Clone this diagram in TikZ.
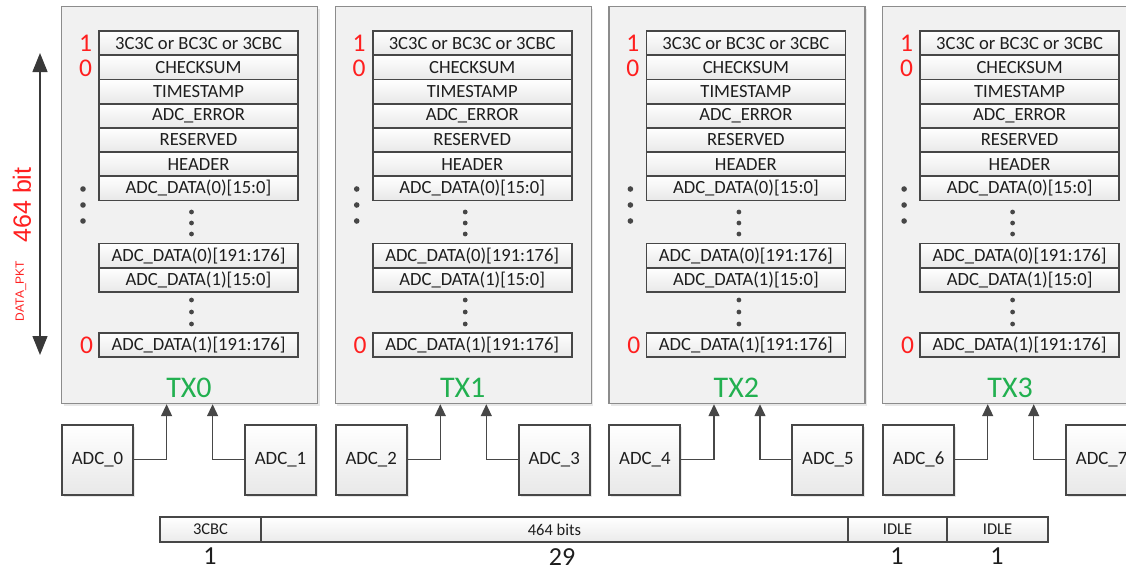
\documentclass[tikz,border=0pt]{standalone}
\usepackage{fontspec}
\setmainfont{Carlito}
\newfontfamily\arialfont{Liberation Sans}
\usetikzlibrary{arrows.meta, positioning, calc, shadows}
\definecolor{pnlfill}{HTML}{F1F1F1}
\definecolor{pnlline}{HTML}{8C8C8C}
\definecolor{boxline}{HTML}{474747}
\definecolor{txtdark}{HTML}{1E1E1E}
\definecolor{bitred}{HTML}{FF1F1F}
\definecolor{txgreen}{HTML}{22B050}

\tikzset{
  panel/.style={draw=pnlline, line width=1.2pt, fill=pnlfill, inner sep=0pt,
    minimum width=256pt, minimum height=397pt,
    drop shadow={opacity=0.18, shadow xshift=2pt, shadow yshift=-2pt}},
  field/.style={draw=boxline, line width=1.8pt, top color=white, bottom color=black!9,
    minimum width=199pt, minimum height=24.2pt, inner sep=0pt,
    font=\fontsize{18.6}{18.6}\selectfont, text=txtdark},
  adcbox/.style={draw=boxline, line width=2pt, top color=white, bottom color=black!9,
    minimum width=71pt, minimum height=70pt, inner sep=0pt,
    font=\fontsize{18.8}{18.8}\selectfont, text=txtdark,
    drop shadow={opacity=0.18, shadow xshift=2pt, shadow yshift=-2pt}},
  barcell/.style={draw=boxline, line width=1.8pt, top color=white, bottom color=black!8,
    minimum height=25pt, inner sep=0pt, font=\fontsize{16.5}{16.5}\selectfont, text=txtdark},
  bitnum/.style={text=bitred, font=\fontsize{25.5}{25.5}\selectfont, inner sep=0pt},
  cntnum/.style={text=txtdark, font=\fontsize{26}{26}\selectfont, inner sep=0pt, anchor=north},
  txlabel/.style={text=txgreen, font=\fontsize{30}{30}\selectfont, inner sep=0pt},
  conn/.style={draw=boxline, line width=1.4pt, -{Triangle[length=12pt, width=11pt]}},
}

\begin{document}
\begin{tikzpicture}[x=1pt, y=-1pt]

\useasboundingbox (0,0) rectangle (1126,570);

% --- DATA_PKT length arrow ---
\coordinate (pkttop) at (40,53);
\coordinate (pktbot) at (40,355);
\draw[boxline!80!black, line width=1.3pt,
  {Triangle[length=19pt, width=15pt]}-{Triangle[length=19pt, width=15pt]}]
  (pkttop) -- (pktbot);
\node[rotate=90, text=bitred, font=\arialfont\fontsize{25}{25}\selectfont, inner sep=0pt]
  (bitlen) at (22,205) {464 bit};
\node[rotate=90, text=bitred, font=\arialfont\fontsize{12}{12}\selectfont, inner sep=0pt]
  (pktname) at (21,291) {DATA\_PKT};

% --- TX lanes ---
\foreach \i in {0,...,3} {
  \pgfmathsetmacro{\px}{61+273.7*\i}
  \pgfmathtruncatemacro{\na}{2*\i}
  \pgfmathtruncatemacro{\nb}{2*\i+1}

  \node[panel, anchor=north west] (tx\i) at (\px,6) {};

  % header fields
  \foreach \lbl [count=\k from 0] in {3C3C or BC3C or 3CBC, CHECKSUM, TIMESTAMP,
      ADC\_ERROR, RESERVED, HEADER, ADC\_DATA(0)[15:0]}
    \node[field] (f\i-\k) at (\px+137.5, 43.1+24.2*\k) {\lbl};

  % data fields
  \node[field] (d\i-a) at (\px+137.5, 255.6) {ADC\_DATA(0)[191:176]};
  \node[field] (d\i-b) at (\px+137.5, 279.8) {ADC\_DATA(1)[15:0]};
  \node[field] (d\i-c) at (\px+137.5, 345) {ADC\_DATA(1)[191:176]};

  % bit markers
  \node[bitnum] (one\i) at (\px+24.5, 43.5) {1};
  \node[bitnum] (zero\i) at (\px+24.5, 68) {0};
  \node[bitnum] (last\i) at (\px+25.5, 345.5) {0};

  % ellipses
  \foreach \yy in {189,205,221}
    \fill[boxline] (\px+22,\yy) circle (2.8pt);
  \foreach \yy in {212,223,234,300,312,324}
    \fill[boxline] (\px+130.5,\yy) circle (2.4pt);

  \node[txlabel] (lbl\i) at (\px+128, 388) {TX\i};

  % ADC inputs
  \node[adcbox, anchor=north west] (adc\na) at (\px,423.5) {ADC\_\na};
  \node[adcbox, anchor=north east] (adc\nb) at (\px+256,423.5) {ADC\_\nb};
  \draw[conn] (adc\na.east) -| ([xshift=-23pt]tx\i.south);
  \draw[conn] (adc\nb.west) -| ([xshift=23pt]tx\i.south);
}

% --- Frame sequence bar ---
\node[barcell, minimum width=101pt] (seqsync) at (210.5,529.5) {3CBC};
\node[barcell, minimum width=587pt] (seqdata) at (554.5,529.5) {464 bits};
\node[barcell, minimum width=99pt] (seqidlea) at (897.5,529.5) {IDLE};
\node[barcell, minimum width=101pt] (seqidleb) at (997.5,529.5) {IDLE};

\node[cntnum] (cntsync) at (210,548) {1};
\node[cntnum] (cntdata) at (562,548) {29};
\node[cntnum] (cntidlea) at (897,548) {1};
\node[cntnum] (cntidleb) at (997,548) {1};

\end{tikzpicture}
\end{document}
